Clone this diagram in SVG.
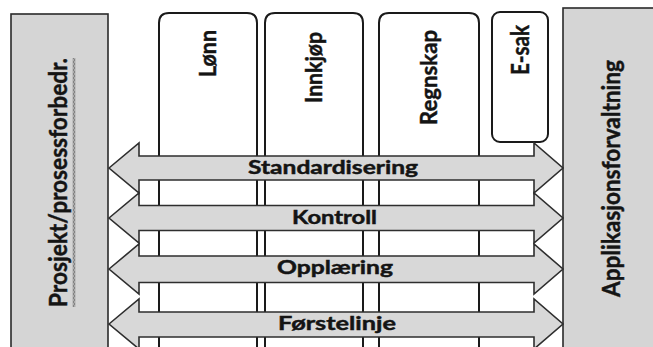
<svg xmlns="http://www.w3.org/2000/svg" width="653" height="347" viewBox="0 0 653 347">
<defs>
<style>
.panel{fill:#d5d5d5;stroke:#2a2a2a;stroke-width:1.6}
.pillar{fill:#ffffff;stroke:#1a1a1a;stroke-width:2}
.arrow{fill:#d8d8d8;stroke:#2e2e2e;stroke-width:1.6;stroke-linejoin:miter}
.lbl{font-family:Lato,"Open Sans","Liberation Sans",sans-serif;font-weight:bold;fill:#141414;stroke:#141414;stroke-width:0.45}
.h{font-size:18.5px}
.v{font-size:23px;text-anchor:middle}
</style>
<pattern id="zig" x="72.5" y="58" width="3" height="4" patternUnits="userSpaceOnUse">
<path d="M0.5,0 L2.5,2 L0.5,4" fill="none" stroke="#1e1e1e" stroke-width="0.9"/>
</pattern>
</defs>
<rect width="653" height="347" fill="#ffffff"/>

<g id="prosjekt">
<rect class="panel" x="11" y="14" width="97" height="345"/>
<text class="lbl v" style="font-size:24px" transform="translate(66.5,182.5) rotate(-90)" textLength="249" lengthAdjust="spacingAndGlyphs">Prosjekt/prosessforbedr.</text>
<rect x="72.5" y="58" width="3" height="249" fill="url(#zig)"/>
</g>

<g id="applikasjon">
<rect class="panel" x="563" y="8" width="100" height="350"/>
<text class="lbl v" style="font-size:24px" transform="translate(620,178.5) rotate(-90)" textLength="237" lengthAdjust="spacingAndGlyphs">Applikasjonsforvaltning</text>
</g>

<g id="lonn">
<path class="pillar" d="M159,350 V23 Q159,13 169,13 H247 Q257,13 257,23 V350"/>
<text class="lbl v" transform="translate(215.5,53.5) rotate(-90)" textLength="47" lengthAdjust="spacingAndGlyphs">Lønn</text>
</g>
<g id="innkjop">
<path class="pillar" d="M265,350 V23 Q265,13 275,13 H353 Q363,13 363,23 V350"/>
<text class="lbl v" transform="translate(322,67.5) rotate(-90)" textLength="71" lengthAdjust="spacingAndGlyphs">Innkjøp</text>
</g>
<g id="regnskap">
<path class="pillar" d="M379,350 V23 Q379,13 389,13 H469 Q479,13 479,23 V350"/>
<text class="lbl v" transform="translate(437,77.5) rotate(-90)" textLength="95" lengthAdjust="spacingAndGlyphs">Regnskap</text>
</g>
<g id="esak">
<rect class="pillar" x="492" y="12" width="56" height="130" rx="8"/>
<text class="lbl v" style="font-size:24px" transform="translate(529,50) rotate(-90)" textLength="50" lengthAdjust="spacingAndGlyphs">E-sak</text>
</g>

<g id="connectors">
<g id="standardisering">
<polygon class="arrow" points="109,168 139,143 139,156 534,156 534,143 563,168 534,193 534,180 139,180 139,193"/>
<text class="lbl h" x="248" y="174" textLength="170" lengthAdjust="spacingAndGlyphs">Standardisering</text>
</g>
<g id="kontroll">
<polygon class="arrow" points="109,218 139,193 139,205.5 534,205.5 534,193 563,218 534,243 534,230.5 139,230.5 139,243"/>
<text class="lbl h" x="292" y="223.5" textLength="85" lengthAdjust="spacingAndGlyphs">Kontroll</text>
</g>
<g id="opplaering">
<polygon class="arrow" points="109,269 139,244 139,256 534,256 534,244 563,269 534,294 534,282.5 139,282.5 139,294"/>
<text class="lbl h" x="277" y="273.5" textLength="116" lengthAdjust="spacingAndGlyphs">Opplæring</text>
</g>
<g id="forstelinje">
<polygon class="arrow" points="109,324 139,299 139,312 534,312 534,299 563,324 534,349 534,337 139,337 139,349"/>
<text class="lbl h" x="278" y="330" textLength="118" lengthAdjust="spacingAndGlyphs">Førstelinje</text>
</g>
</g>
</svg>
